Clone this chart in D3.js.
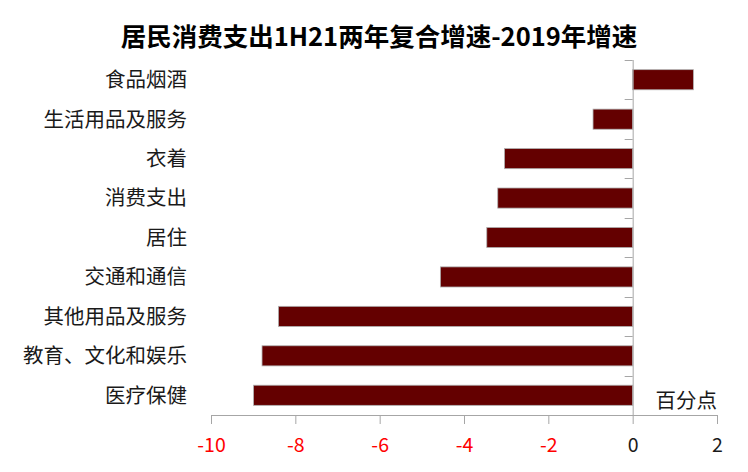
<!DOCTYPE html>
<html>
<head>
<meta charset="utf-8">
<script src="https://cdn.jsdelivr.net/npm/d3@7"></script>
<style>
  html, body { margin: 0; padding: 0; background: #ffffff; }
  svg { display: block; }
  text { font-family: "Noto Sans CJK SC", "Noto Sans", sans-serif; }
</style>
</head>
<body>
<svg id="chart" width="748" height="472"></svg>
<script>
const titleText = "居民消费支出1H21两年复合增速-2019年增速";
const categories = ["食品烟酒", "生活用品及服务", "衣着", "消费支出", "居住", "交通和通信", "其他用品及服务", "教育、文化和娱乐", "医疗保健"];
const values = [1.44, -0.94, -3.04, -3.20, -3.46, -4.56, -8.40, -8.79, -8.99];
const xTicks = [-10, -8, -6, -4, -2, 0, 2];
const unitLabel = "百分点";

(function () {
const svg = d3.select("#chart");
const plotLeft = 211, plotRight = 717, plotTop = 60, plotBottom = 415;

const x = d3.scaleLinear().domain([-10, 2]).range([plotLeft, plotRight]);
const y = d3.scaleBand().domain(categories).range([plotTop, plotBottom]).paddingInner(0.49).paddingOuter(0.245);

const axisColor = "#a6a6a6";

// Title
svg.append("text")
  .attr("x", 379).attr("y", 46)
  .attr("text-anchor", "middle")
  .attr("font-size", 25.5).attr("font-weight", "bold")
  .attr("fill", "#000")
  .text(titleText);

// Bars
svg.append("g").selectAll("rect").data(values).join("rect")
  .attr("x", d => x(Math.min(0, d)))
  .attr("y", (d, i) => y(categories[i]))
  .attr("width", d => Math.abs(x(d) - x(0)))
  .attr("height", y.bandwidth())
  .attr("fill", "#640000")
  .attr("stroke", "#b0b0b0")
  .attr("stroke-width", 0.8);

// X axis
const xAxis = svg.append("g")
  .attr("transform", `translate(0,${plotBottom})`)
  .call(d3.axisBottom(x).tickValues(xTicks).tickSize(9).tickPadding(14).tickFormat(d3.format("d")));
xAxis.select(".domain").attr("stroke", axisColor).attr("d", `M${plotLeft},0.5H${plotRight}`);
xAxis.selectAll(".tick line").attr("stroke", axisColor);
xAxis.selectAll(".tick text")
  .attr("font-size", 19.5)
  .attr("font-family", "'Noto Sans CJK SC', sans-serif")
  .attr("fill", d => d < 0 ? "#ff0000" : "#1a1a1a")
  .text(d => d < 0 ? "-" + Math.abs(d) : String(d));

// Y axis at zero: line + ticks at band boundaries
const step = y.step();
const boundaries = d3.range(categories.length + 1).map(i => plotTop + i * step);
const yAxis = svg.append("g");
yAxis.append("line")
  .attr("x1", x(0) + 0.5).attr("x2", x(0) + 0.5)
  .attr("y1", plotTop).attr("y2", plotBottom)
  .attr("stroke", axisColor);
yAxis.selectAll("line.t").data(boundaries).join("line")
  .attr("class", "t")
  .attr("x1", x(0) - 8).attr("x2", x(0))
  .attr("y1", d => Math.round(d) + 0.5).attr("y2", d => Math.round(d) + 0.5)
  .attr("stroke", axisColor);

// Category labels
svg.append("g").selectAll("text").data(categories).join("text")
  .attr("x", 187)
  .attr("y", d => y(d) + y.bandwidth() / 2)
  .attr("dy", "0.36em")
  .attr("text-anchor", "end")
  .attr("font-size", 20.5)
  .attr("fill", "#1a1a1a")
  .text(d => d);

// Unit label
svg.append("text")
  .attr("x", 717).attr("y", 408)
  .attr("text-anchor", "end")
  .attr("font-size", 20.5)
  .attr("fill", "#1a1a1a")
  .text(unitLabel);
})();
</script>
</body>
</html>
